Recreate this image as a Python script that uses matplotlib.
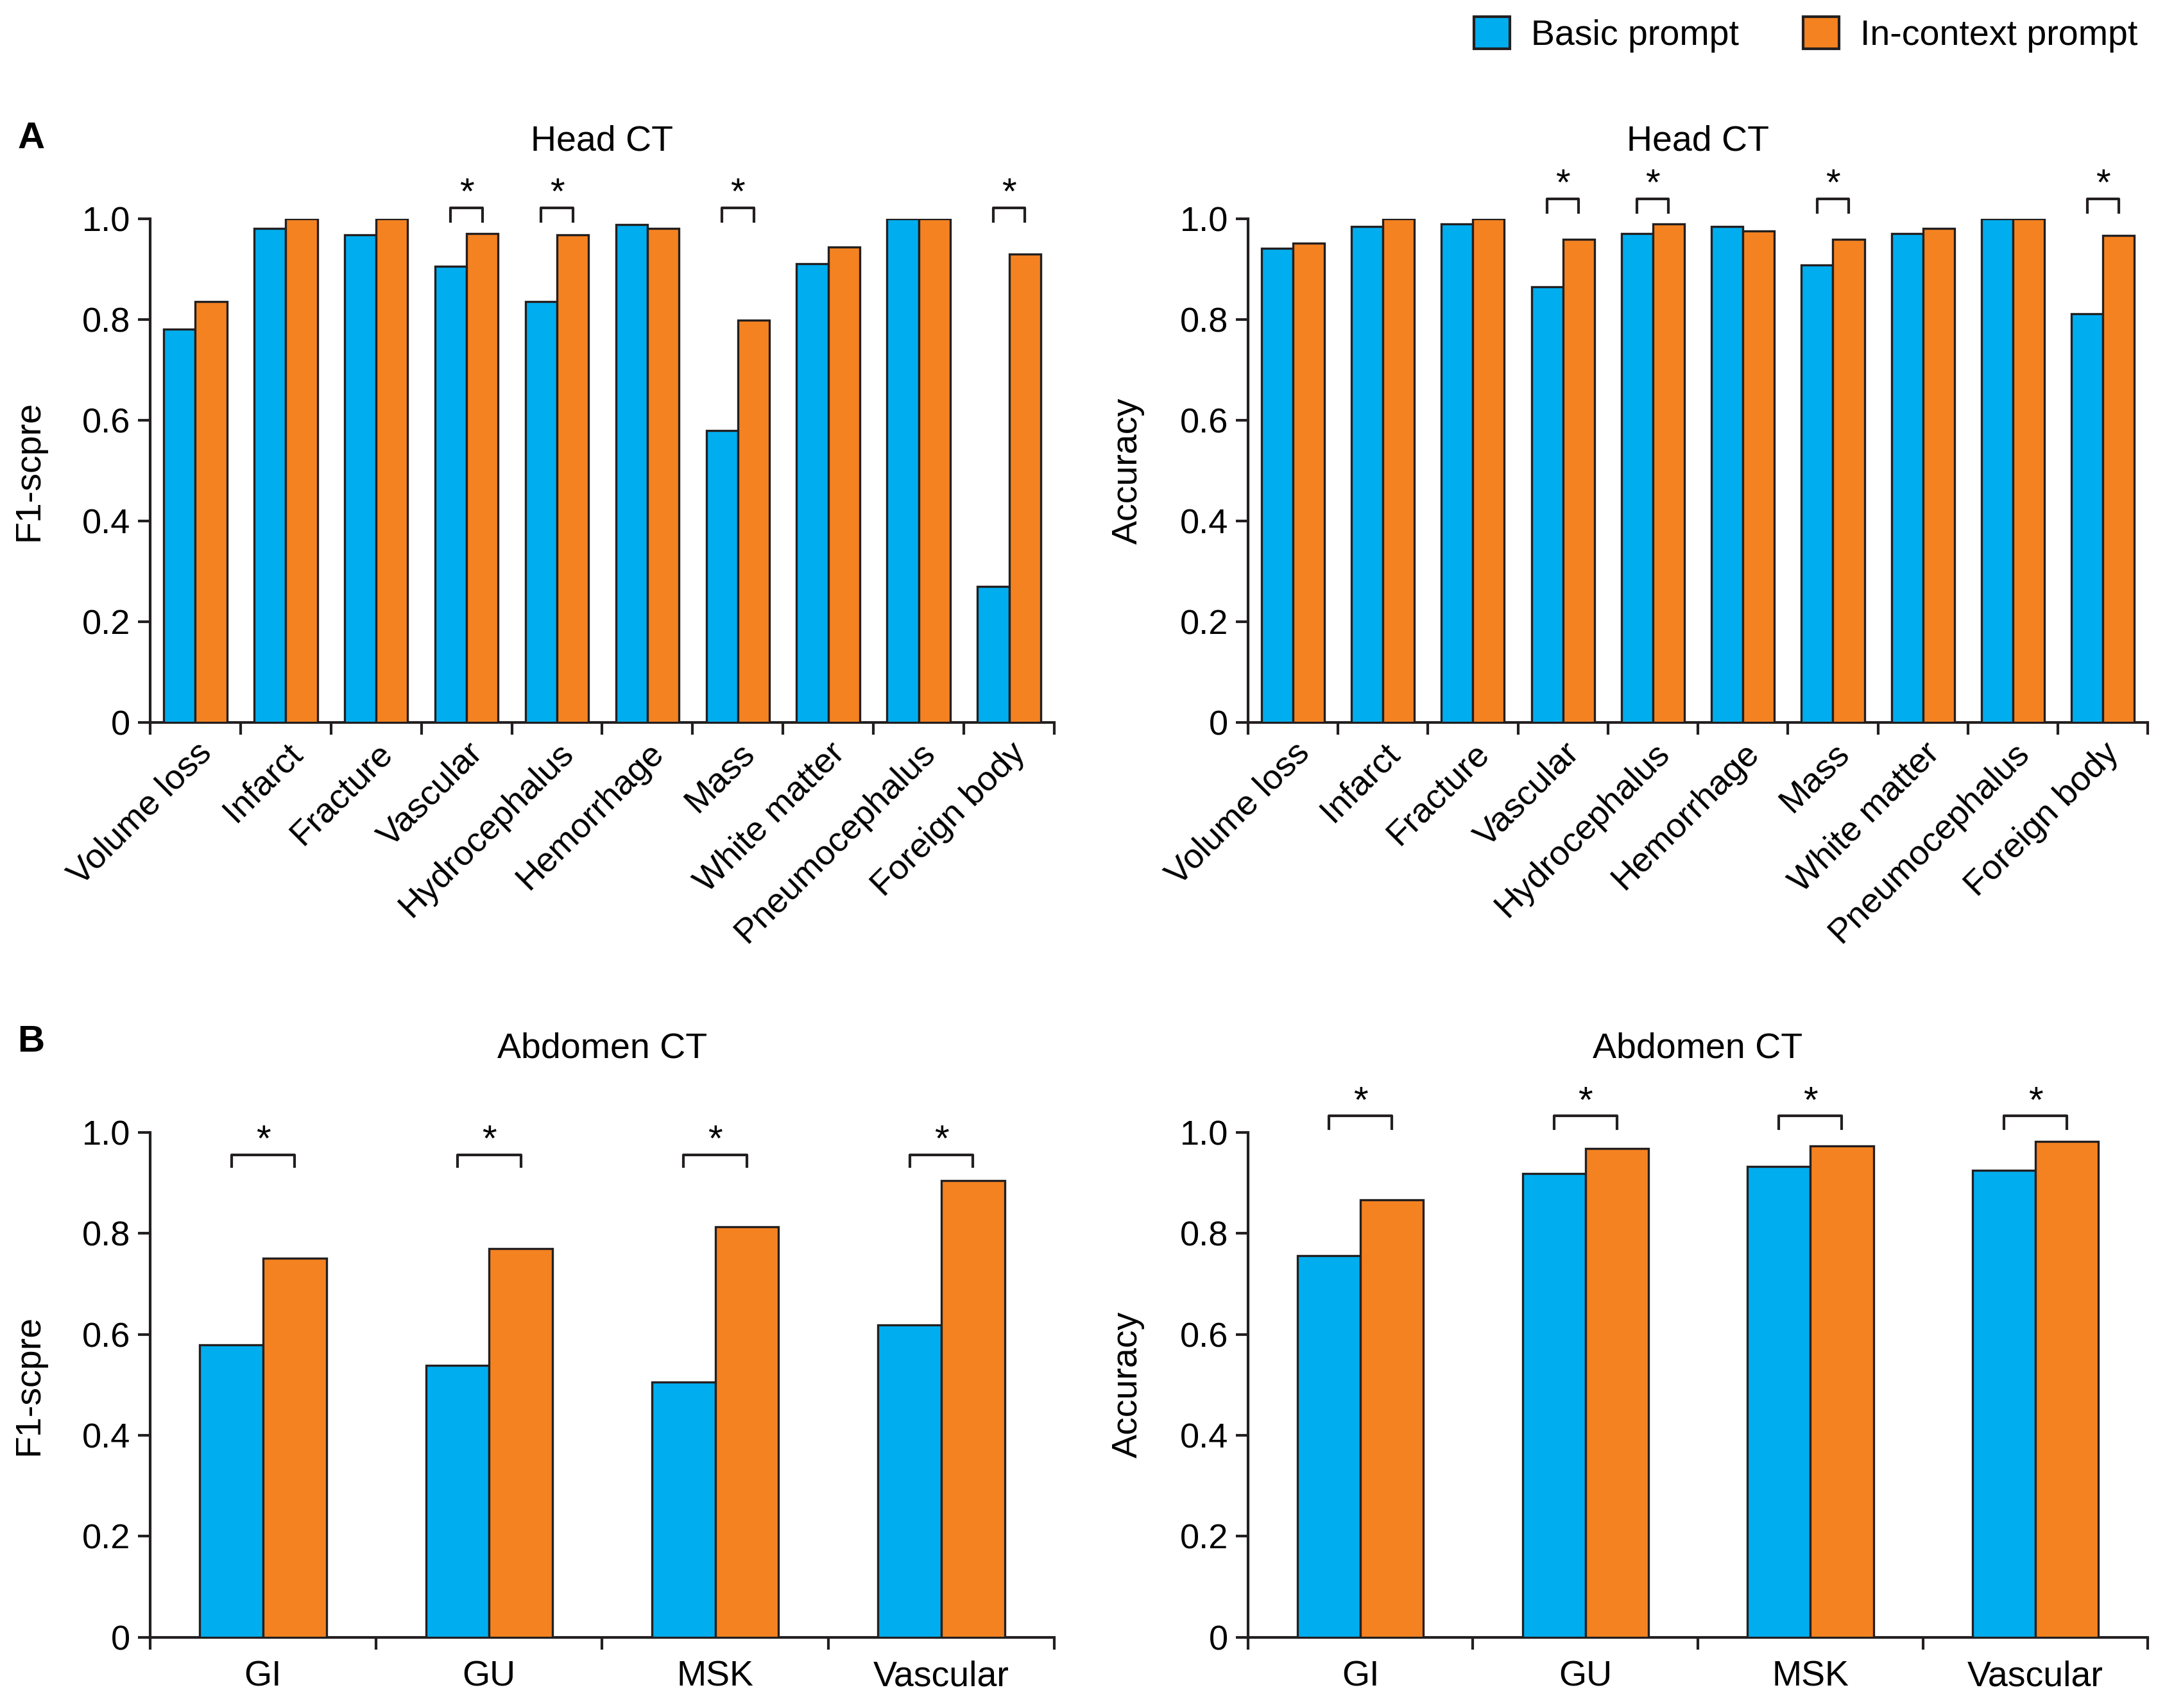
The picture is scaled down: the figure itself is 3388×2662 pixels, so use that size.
import matplotlib
matplotlib.use("Agg")
import matplotlib.pyplot as plt
import numpy as np
from matplotlib.patches import Patch

plt.rcParams['font.family'] = ['Liberation Sans', 'DejaVu Sans']
NARROW = ['Liberation Sans Narrow', 'Liberation Sans', 'DejaVu Sans']

# Datos
head_labels = ["Volume loss", "Infarct", "Fracture", "Vascular", "Hydrocephalus",
               "Hemorrhage", "Mass", "White matter", "Pneumocephalus", "Foreign body"]
head_f1_basic = [0.780, 0.981, 0.968, 0.905, 0.836, 0.988, 0.579, 0.911, 1.0, 0.270]
head_f1_context = [0.836, 1.0, 1.0, 0.970, 0.968, 0.981, 0.798, 0.944, 1.0, 0.929]
head_acc_basic = [0.941, 0.985, 0.989, 0.865, 0.970, 0.985, 0.908, 0.970, 1.0, 0.811]
head_acc_context = [0.951, 1.0, 1.0, 0.959, 0.989, 0.975, 0.959, 0.981, 1.0, 0.966]
head_sig = [3, 4, 6, 9]

abd_labels = ["GI", "GU", "MSK", "Vascular"]
abd_f1_basic = [0.579, 0.539, 0.506, 0.618]
abd_f1_context = [0.751, 0.770, 0.813, 0.904]
abd_acc_basic = [0.756, 0.919, 0.933, 0.925]
abd_acc_context = [0.867, 0.968, 0.973, 0.982]
abd_sig = [0, 1, 2, 3]

AZUL = '#00AEEF'
NARANJA = '#F58220'
NEGRO = '#231f20'

fig = plt.figure(figsize=(16.94, 13.31), dpi=200)

def panel(rect, labels, basic, context, sig, ylabel, w, rot, br_top, br_leg, star_y):
    ax = fig.add_axes(rect)
    x = np.arange(len(labels))
    ax.bar(x - w / 2, basic, w, color=AZUL, edgecolor=NEGRO, linewidth=1.2, zorder=3)
    ax.bar(x + w / 2, context, w, color=NARANJA, edgecolor=NEGRO, linewidth=1.2, zorder=3)
    ax.set_xlim(-0.5, len(labels) - 0.5)
    ax.set_ylim(0, 1.0)
    ax.set_yticks([0, 0.2, 0.4, 0.6, 0.8, 1.0])
    ax.set_yticklabels(["0", "0.2", "0.4", "0.6", "0.8", "1.0"], family=NARROW, fontsize=19.5)
    ax.set_xticks(np.arange(-0.5, len(labels)), minor=False)
    ax.set_xticklabels([])
    ax.set_xticks(x, minor=True)
    if rot:
        ax.set_xticklabels(labels, minor=True, rotation=45, ha='right', va='top',
                           rotation_mode='anchor', fontsize=19.5)
        ax.tick_params(axis='x', which='minor', length=0, pad=8)
    else:
        ax.set_xticklabels(labels, minor=True, family=NARROW, fontsize=20)
        ax.tick_params(axis='x', which='minor', length=0, pad=13)
    ax.tick_params(axis='both', which='major', length=7, width=1.5, color=NEGRO)
    ax.tick_params(axis='y', pad=4)
    for s in ['top', 'right']:
        ax.spines[s].set_visible(False)
    for s in ['left', 'bottom']:
        ax.spines[s].set_linewidth(1.5)
        ax.spines[s].set_color(NEGRO)
    ax.set_ylabel(ylabel, fontsize=20)
    ax.yaxis.set_label_coords(-0.115, 0.5)
    # Corchetes de significancia
    for i in sig:
        x0, x1 = i - w / 2, i + w / 2
        ax.plot([x0, x0, x1, x1], [br_leg, br_top, br_top, br_leg], color=NEGRO,
                lw=1.5, clip_on=False)
        ax.text(i, star_y, '*', ha='center', va='center', fontsize=21, clip_on=False)
    return ax

panel([0.069, 0.577, 0.416, 0.295], head_labels, head_f1_basic, head_f1_context,
      head_sig, "F1-scpre", 0.35, True, 1.021, 0.995, 1.048)
panel([0.574, 0.577, 0.414, 0.295], head_labels, head_acc_basic, head_acc_context,
      head_sig, "Accuracy", 0.35, True, 1.039, 1.013, 1.066)
panel([0.069, 0.0414, 0.416, 0.2956], abd_labels, abd_f1_basic, abd_f1_context,
      abd_sig, "F1-scpre", 0.28, False, 0.956, 0.932, 0.982)
panel([0.574, 0.0414, 0.414, 0.2956], abd_labels, abd_acc_basic, abd_acc_context,
      abd_sig, "Accuracy", 0.28, False, 1.033, 1.008, 1.059)

fig.text(0.277, 0.917, "Head CT", ha='center', va='center', family=NARROW, fontsize=20)
fig.text(0.781, 0.917, "Head CT", ha='center', va='center', family=NARROW, fontsize=20)
fig.text(0.277, 0.386, "Abdomen CT", ha='center', va='center', family=NARROW, fontsize=20)
fig.text(0.781, 0.386, "Abdomen CT", ha='center', va='center', family=NARROW, fontsize=20)
fig.text(0.008, 0.919, "A", ha='left', va='center', fontsize=21, weight='bold', family=NARROW)
fig.text(0.008, 0.390, "B", ha='left', va='center', fontsize=21, weight='bold', family=NARROW)

handles = [Patch(facecolor=AZUL, edgecolor=NEGRO, linewidth=1.5, label='Basic prompt'),
           Patch(facecolor=NARANJA, edgecolor=NEGRO, linewidth=1.5, label='In-context prompt')]
fig.legend(handles=handles, loc='upper right', bbox_to_anchor=(0.998, 1.009), ncol=2,
           frameon=False, fontsize=20, handlelength=1.0, handleheight=1.0,
           columnspacing=1.8, handletextpad=0.6)

fig.savefig("out.png", dpi=200)
